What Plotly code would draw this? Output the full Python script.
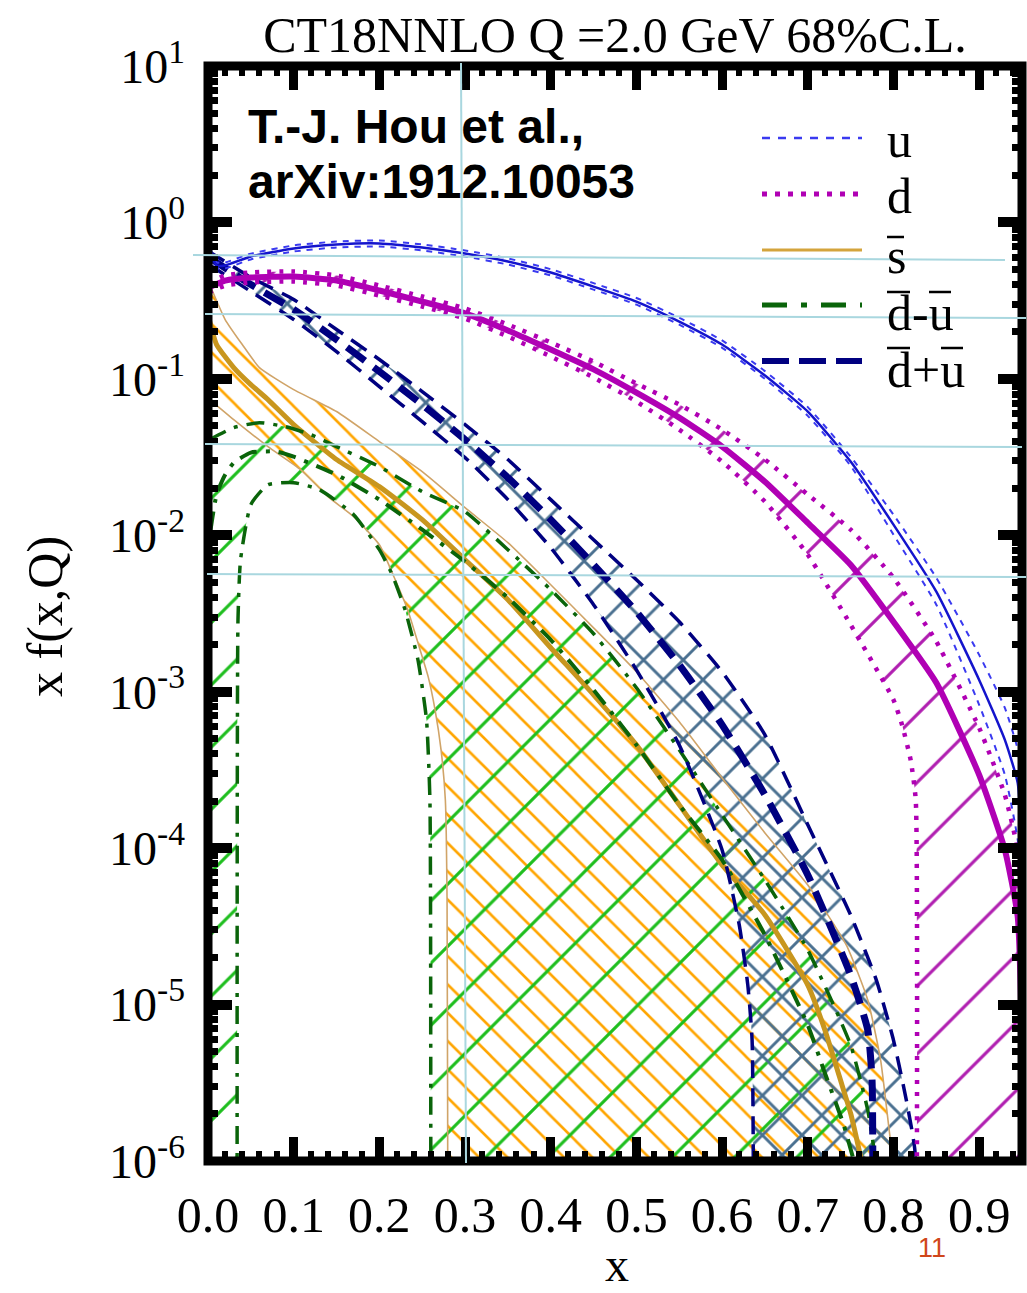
import plotly.graph_objects as go

# ---------------- x f(x, Q) at Q = 2 GeV (CT18NNLO, 68% C.L.) ----------------
# values of 1e-7 / 1e-8 stand for "below the plotted range" (band edge <= 0)

# u quark: central value and error-band edges
u_x = [0.001, 0.004, 0.01, 0.02, 0.05, 0.1, 0.15, 0.2, 0.25, 0.3, 0.35, 0.4, 0.45, 0.5,
       0.55, 0.6, 0.65, 0.7, 0.75, 0.8, 0.85, 0.9, 0.93, 0.945, 0.95]
u_c = [0.778, 0.624, 0.531, 0.531, 0.606, 0.682, 0.723, 0.734, 0.692, 0.633, 0.563, 0.479, 0.389, 0.312,
       0.2326, 0.1657, 0.105, 0.0618, 0.0296, 0.0117, 0.00436, 0.00119, 4.92e-4, 2.61e-4, 9.74e-5]
u_hi = [0.81, 0.65, 0.555, 0.555, 0.632, 0.713, 0.755, 0.767, 0.723, 0.662, 0.589, 0.502, 0.409, 0.329,
        0.246, 0.176, 0.112, 0.066, 0.0318, 0.01354, 0.00535, 0.00172, 7.88e-4, 4.25e-4, 2.03e-4]
u_lo = [0.745, 0.60, 0.508, 0.508, 0.58, 0.652, 0.692, 0.702, 0.662, 0.605, 0.538, 0.458, 0.372, 0.298,
        0.222, 0.158, 0.10, 0.058, 0.0278, 0.0101, 0.0036, 8.24e-4, 2.94e-4, 1.13e-4, 4.66e-5]

# d quark
d_x = [0.001, 0.02, 0.05, 0.1, 0.15, 0.2, 0.25, 0.3, 0.35, 0.4, 0.45, 0.5, 0.55, 0.6, 0.65,
       0.7, 0.75, 0.8, 0.85, 0.9, 0.93, 0.945, 0.95]
d_c = [0.384, 0.425, 0.445, 0.451, 0.425, 0.367, 0.312, 0.262, 0.204, 0.154, 0.115, 0.0817, 0.0565,
       0.0369, 0.0220, 0.0120, 0.00648, 0.0028, 0.00114, 2.94e-4, 9.74e-5, 3.63e-5, 5.1e-6]
d_hi = [0.413, 0.458, 0.479, 0.486, 0.458, 0.395, 0.336, 0.282, 0.2226, 0.171, 0.129, 0.0933, 0.0685,
        0.0474, 0.0305, 0.0182, 0.01086, 0.00535, 0.00209, 5.87e-4, 2.19e-4, 9.74e-5, 4.66e-5]
d_lo_x = [0.001, 0.02, 0.05, 0.1, 0.15, 0.2, 0.25, 0.3, 0.35, 0.4, 0.45, 0.5, 0.55, 0.6, 0.65,
          0.7, 0.75, 0.8, 0.81, 0.82, 0.826, 0.827, 0.827, 0.95]
d_lo = [0.3565, 0.395, 0.413, 0.419, 0.395, 0.341, 0.290, 0.243, 0.1865, 0.139, 0.102, 0.0716, 0.0474,
        0.0296, 0.0164, 0.00751, 0.00268, 8.87e-4, 6.14e-4, 3.67e-4, 2.03e-4, 1e-7, 1e-8, 1e-8]

# s-bar
sb_x = [0.002, 0.01, 0.03, 0.05, 0.07, 0.1, 0.15, 0.2, 0.25, 0.3, 0.35, 0.4, 0.45, 0.5, 0.55,
        0.6, 0.65, 0.7, 0.72, 0.74, 0.75, 0.76, 0.77]
sb_c = [0.2326, 0.1657, 0.1181, 0.0919, 0.0737, 0.0510, 0.0305, 0.02046, 0.01258, 0.00698, 0.00387,
        0.00191, 9.55e-4, 4.57e-4, 1.89e-4, 7.81e-5, 3.74e-5, 1.332e-5, 6.87e-6, 3.05e-6, 2.02e-6,
        1.17e-6, 6.5e-7]
sb_hi_x = [0.002, 0.02, 0.04, 0.06, 0.1, 0.15, 0.2, 0.25, 0.3, 0.35, 0.4, 0.45, 0.5, 0.55, 0.6,
           0.65, 0.7, 0.745, 0.77, 0.785, 0.795, 0.8, 0.81]
sb_hi = [0.401, 0.2395, 0.1657, 0.1181, 0.0854, 0.0618, 0.0397, 0.02552, 0.01502, 0.00897, 0.00483,
         0.00256, 0.00134, 6.42e-4, 2.81e-4, 1.251e-4, 5.81e-5, 2.40e-5, 1.069e-5, 4.42e-6, 1.574e-6,
         9.7e-7, 5.3e-7]
sb_lo_x = [0.002, 0.03, 0.07, 0.108, 0.14, 0.17, 0.2, 0.217, 0.233, 0.245, 0.257, 0.265, 0.272,
           0.277, 0.279, 0.28, 0.28, 0.81]
sb_lo = [0.0737, 0.0549, 0.0369, 0.0263, 0.01766, 0.01315, 0.0087, 0.00543, 0.00334, 0.002055,
         0.001245, 7.66e-4, 4.25e-4, 2.03e-4, 4.66e-5, 1e-7, 1e-8, 1e-8]

# d-bar minus u-bar (lower edge is negative outside 0.034 < x < 0.26)
dmu_x = [0.003, 0.01, 0.02, 0.03, 0.05, 0.08, 0.1, 0.15, 0.2, 0.25, 0.3, 0.35, 0.4, 0.45, 0.5,
         0.55, 0.6, 0.65, 0.7, 0.72, 0.742, 0.76]
dmu_c = [0.01086, 0.0182, 0.0244, 0.0291, 0.0338, 0.0343, 0.0318, 0.0244, 0.0169, 0.01086, 0.00678,
         0.00399, 0.002148, 0.001028, 4.57e-4, 1.89e-4, 8.41e-5, 2.783e-5, 7.39e-6, 3.64e-6,
         1.695e-6, 7.5e-7]
dmu_hi_x = [0.002, 0.03, 0.06, 0.09, 0.12, 0.15, 0.2, 0.25, 0.3, 0.35, 0.4, 0.45, 0.5, 0.55, 0.6,
            0.65, 0.7, 0.75, 0.77, 0.78]
dmu_hi = [0.0409, 0.0488, 0.0525, 0.0495, 0.044, 0.0369, 0.02747, 0.019, 0.01416, 0.00809, 0.00449,
          0.002346, 0.001059, 4.25e-4, 1.631e-4, 6.26e-5, 2.232e-5, 5.51e-6, 2.11e-6, 9.4e-7]
dmu_lo_x = [0.0, 0.034, 0.034, 0.035, 0.038, 0.05, 0.07, 0.1, 0.13, 0.17, 0.2, 0.215, 0.23, 0.245,
            0.255, 0.259, 0.26, 0.26, 0.78]
dmu_lo = [1e-8, 1e-8, 1e-7, 0.00288, 0.00698, 0.0157, 0.02107, 0.0217, 0.01957, 0.01354, 0.00809,
          0.0056, 0.00334, 0.0016, 6.61e-4, 2.03e-4, 1e-7, 1e-8, 1e-8]

# d-bar plus u-bar
dpu_x = [0.001, 0.05, 0.1, 0.15, 0.2, 0.25, 0.3, 0.35, 0.4, 0.45, 0.5, 0.55, 0.6, 0.65, 0.7,
         0.75, 0.77, 0.775, 0.776, 0.776]
dpu_c = [0.597, 0.401, 0.2776, 0.1784, 0.1113, 0.0685, 0.0409, 0.02336, 0.01258, 0.00648, 0.003245,
         0.001486, 6.14e-4, 2.19e-4, 6.74e-5, 1.544e-5, 6.87e-6, 3.29e-6, 1e-7, 1e-8]
dpu_hi_x = [0.001, 0.05, 0.1, 0.15, 0.2, 0.25, 0.3, 0.35, 0.4, 0.45, 0.5, 0.55, 0.6, 0.65, 0.7,
            0.75, 0.78, 0.8, 0.815, 0.825, 0.828, 0.828]
dpu_hi = [0.652, 0.445, 0.3216, 0.2068, 0.1329, 0.0829, 0.0510, 0.0305, 0.0169, 0.00937, 0.0052,
          0.0028, 0.00134, 5.3e-4, 1.41e-4, 3.74e-5, 1.434e-5, 5.93e-6, 2.45e-6, 1.17e-6, 1e-7, 1e-8]
dpu_lo_x = [0.001, 0.05, 0.1, 0.15, 0.2, 0.25, 0.3, 0.35, 0.4, 0.45, 0.5, 0.55, 0.6, 0.62, 0.63,
            0.635, 0.637, 0.637, 0.828]
dpu_lo = [0.5385, 0.3619, 0.2395, 0.1495, 0.0893, 0.0533, 0.03137, 0.0169, 0.00833, 0.0036, 0.00138,
          4.57e-4, 9.74e-5, 3.23e-5, 1.332e-5, 5.93e-6, 1e-7, 1e-8, 1e-8]

# axis ticks
x_ticks = [0.0, 0.1, 0.2, 0.3, 0.4, 0.5, 0.6, 0.7, 0.8, 0.9]
x_ticklabels = ["0.0", "0.1", "0.2", "0.3", "0.4", "0.5", "0.6", "0.7", "0.8", "0.9"]
y_exponents = [-6, -5, -4, -3, -2, -1, 0, 1]

# ---------------- page geometry ----------------
W, H = 1027, 1293
ML, MR, MT, MB = 208, 5, 66, 132
PW, PH = W - ML - MR, H - MT - MB
X_RANGE = [0, 0.95]
Y_RANGE = [-6, 1]          # log10 decades


def fx(p):
    """horizontal page pixel -> paper fraction"""
    return (p - ML) / PW


def fy(p):
    """vertical page pixel -> paper fraction"""
    return (H - MB - p) / PH


SERIF = "Liberation Serif, Times New Roman, serif"
SANS = "Liberation Sans, Arial, sans-serif"

C_U = "#1414CC"
C_U_DASH = "#3A3AF0"
C_D = "#B000B4"
C_SB_EDGE = "#D0A468"
C_SB_MID = "#C8961E"
C_SB_HATCH = "#FFA500"
C_DMU = "#0A640A"
C_DMU_HATCH = "#1EBE1E"
C_DPU = "#000080"
C_DPU_HATCH = "#4A7090"
C_D_HATCH = "#B01EB0"
C_TICK = "black"

fig = go.Figure()


def band(xh, yh, xl, yl, shape, color, size, solidity):
    fig.add_trace(go.Scatter(
        x=list(xh) + list(xl)[::-1], y=list(yh) + list(yl)[::-1],
        mode="none", fill="toself", fillcolor="rgba(0,0,0,0)",
        line=dict(shape="spline", smoothing=0.5, width=0),
        fillpattern=dict(shape=shape, fgcolor=color, bgcolor="rgba(0,0,0,0)", fgopacity=1,
                         size=size, solidity=solidity),
        hoverinfo="skip", showlegend=False))


def curve(x, y, color, width, dash="solid"):
    fig.add_trace(go.Scatter(
        x=x, y=y, mode="lines",
        line=dict(color=color, width=width, dash=dash, shape="spline", smoothing=0.5),
        hoverinfo="skip", showlegend=False))


# hatched uncertainty bands
band(sb_hi_x, sb_hi, sb_lo_x, sb_lo, "\\", C_SB_HATCH, 20, 0.13)
band(dmu_hi_x, dmu_hi, dmu_lo_x, dmu_lo, "/", C_DMU_HATCH, 44, 0.07)
band(dpu_hi_x, dpu_hi, dpu_lo_x, dpu_lo, "x", C_DPU_HATCH, 28, 0.2)
band(d_x, d_hi, d_lo_x, d_lo, "/", C_D_HATCH, 48, 0.065)

# s-bar
curve(sb_hi_x, sb_hi, C_SB_EDGE, 1.6)
curve(sb_lo_x, sb_lo, C_SB_EDGE, 1.6)
curve(sb_x, sb_c, C_SB_MID, 5)
# d-bar - u-bar
DASHDOT = "18px,9px,4px,9px"
curve(dmu_hi_x, dmu_hi, C_DMU, 3.5, DASHDOT)
curve(dmu_lo_x, dmu_lo, C_DMU, 3.5, DASHDOT)
curve(dmu_x, dmu_c, C_DMU, 4, DASHDOT)
# d-bar + u-bar
curve(dpu_hi_x, dpu_hi, C_DPU, 3.5, "18px,10px")
curve(dpu_lo_x, dpu_lo, C_DPU, 3.5, "18px,10px")
curve(dpu_x, dpu_c, C_DPU, 7, "22px,11px")
# d
curve(d_x, d_hi, C_D, 4.5, "4px,8px")
curve(d_lo_x, d_lo, C_D, 4.5, "4px,8px")
curve(d_x, d_c, C_D, 6)
# u
curve(u_x, u_hi, C_U_DASH, 2, "6px,6px")
curve(u_x, u_lo, C_U_DASH, 2, "6px,6px")
curve(u_x, u_c, C_U, 2.5)

# empty traces so that the tick-only overlay axes get drawn
for xa, ya in (("x2", "y"), ("x3", "y"), ("x4", "y"), ("x", "y2"), ("x", "y3"), ("x", "y4")):
    fig.add_trace(go.Scatter(x=[None], y=[None], xaxis=xa, yaxis=ya, mode="lines",
                             hoverinfo="skip", showlegend=False))

# ---------------- axes ----------------
y_tickvals = [10.0 ** e for e in y_exponents]
y_ticktext = ["10<sup>%d</sup>" % e for e in y_exponents]
y_minor = [m * 10.0 ** e for e in y_exponents[:-1] for m in range(2, 10)]
x_minor = [round(k * 0.02, 4) for k in range(48) if k % 5]

MAJ_LEN, MIN_LEN = 24, 10
base = dict(showgrid=False, zeroline=False, showline=False, automargin=False,
            ticks="inside", tickcolor=C_TICK, tickmode="array")
tick_only = dict(base, showticklabels=False)

fig.update_layout(
    xaxis=dict(base, range=X_RANGE, tickvals=x_ticks, ticktext=x_ticklabels,
               ticklen=MAJ_LEN, tickwidth=9, ticklabelstandoff=20,
               tickfont=dict(family=SERIF, size=50, color="black")),
    xaxis2=dict(tick_only, range=X_RANGE, overlaying="x", anchor="y", side="bottom",
                tickvals=x_minor, ticklen=MIN_LEN, tickwidth=6),
    xaxis3=dict(tick_only, range=X_RANGE, overlaying="x", anchor="y", side="top",
                tickvals=x_ticks, ticklen=MAJ_LEN, tickwidth=9),
    xaxis4=dict(tick_only, range=X_RANGE, overlaying="x", anchor="y", side="top",
                tickvals=x_minor, ticklen=MIN_LEN, tickwidth=6),
    yaxis=dict(base, type="log", range=Y_RANGE, tickvals=y_tickvals, ticktext=y_ticktext,
               ticklen=MAJ_LEN, tickwidth=10, ticklabelstandoff=22,
               tickfont=dict(family=SERIF, size=48, color="black")),
    yaxis2=dict(tick_only, type="log", range=Y_RANGE, overlaying="y", anchor="x", side="left",
                tickvals=y_minor, ticklen=MIN_LEN, tickwidth=7),
    yaxis3=dict(tick_only, type="log", range=Y_RANGE, overlaying="y", anchor="x", side="right",
                tickvals=y_tickvals, ticklen=MAJ_LEN, tickwidth=10),
    yaxis4=dict(tick_only, type="log", range=Y_RANGE, overlaying="y", anchor="x", side="right",
                tickvals=y_minor, ticklen=MIN_LEN, tickwidth=7),
)

shapes = []
# plot frame
shapes.append(dict(type="rect", xref="paper", yref="paper", x0=0, x1=1, y0=0, y1=1,
                   line=dict(color="black", width=9), layer="above"))

# thin guide lines
GUIDE = "#A9D7DF"
for (x0, y0, x1, y1) in [(193, 255, 1005, 260), (205, 314, 1026, 318), (205, 444, 1022, 447),
                         (207, 574, 1026, 577), (461, 63, 466, 1163)]:
    shapes.append(dict(type="line", xref="paper", yref="paper", x0=fx(x0), y0=fy(y0),
                       x1=fx(x1), y1=fy(y1), line=dict(color=GUIDE, width=2), layer="above"))

# legend: sample line, label, and overline bars for the anti-quarks
legend_rows = [
    ("u", C_U_DASH, 2.5, "8px,8px", 138, 140, []),
    ("d", C_D, 5, "5px,8px", 194, 196, []),
    ("s", "#D4A43C", 3, "solid", 250, 256, [(887, 904, 237)]),
    ("d-u", C_DMU, 5, "25px,14px,6px,14px", 305, 313, [(887, 910, 292), (929, 951, 292)]),
    ("d+u", C_DPU, 6, "27px,10px", 361, 370, [(887, 910, 348), (941, 963, 348)]),
]
annotations = []
for label, col, wid, dash, yl, yt, bars in legend_rows:
    shapes.append(dict(type="line", xref="paper", yref="paper", x0=fx(762), x1=fx(862),
                       y0=fy(yl), y1=fy(yl), line=dict(color=col, width=wid, dash=dash)))
    annotations.append(dict(text=label, xref="paper", yref="paper", x=fx(885), y=fy(yt),
                            xanchor="left", yanchor="middle", showarrow=False,
                            font=dict(family=SERIF, size=50, color="black")))
    for bx0, bx1, by in bars:
        shapes.append(dict(type="line", xref="paper", yref="paper", x0=fx(bx0), x1=fx(bx1),
                           y0=fy(by), y1=fy(by), line=dict(color="black", width=2.5)))

annotations += [
    dict(text="<b>T.-J. Hou et al.,</b>", xref="paper", yref="paper", x=fx(246), y=fy(126),
         xanchor="left", yanchor="middle", showarrow=False,
         font=dict(family=SANS, size=48, color="black")),
    dict(text="<b>arXiv:1912.10053</b>", xref="paper", yref="paper", x=fx(246), y=fy(182),
         xanchor="left", yanchor="middle", showarrow=False,
         font=dict(family=SANS, size=48, color="black")),
    dict(text="x f(x,Q)", xref="paper", yref="paper", x=fx(45), y=fy(617), textangle=-90,
         xanchor="center", yanchor="middle", showarrow=False,
         font=dict(family=SERIF, size=50, color="black")),
    dict(text="x", xref="paper", yref="paper", x=fx(617), y=fy(1293),
         xanchor="center", yanchor="bottom", showarrow=False,
         font=dict(family=SERIF, size=48, color="black")),
    dict(text="11", xref="paper", yref="paper", x=fx(932), y=fy(1248),
         xanchor="center", yanchor="middle", showarrow=False,
         font=dict(family=SANS, size=27, color="#D0461A")),
]

fig.update_layout(
    width=W, height=H, margin=dict(l=ML, r=MR, t=MT, b=MB, pad=0),
    paper_bgcolor="white", plot_bgcolor="white", showlegend=False,
    title=dict(text="CT18NNLO Q =2.0 GeV 68%C.L.", x=0.5, xref="paper", xanchor="center",
               y=1 - 34 / H, yref="container", yanchor="middle",
               font=dict(family=SERIF, size=50, color="black")),
    shapes=shapes, annotations=annotations,
)

fig.write_html("out.html")
